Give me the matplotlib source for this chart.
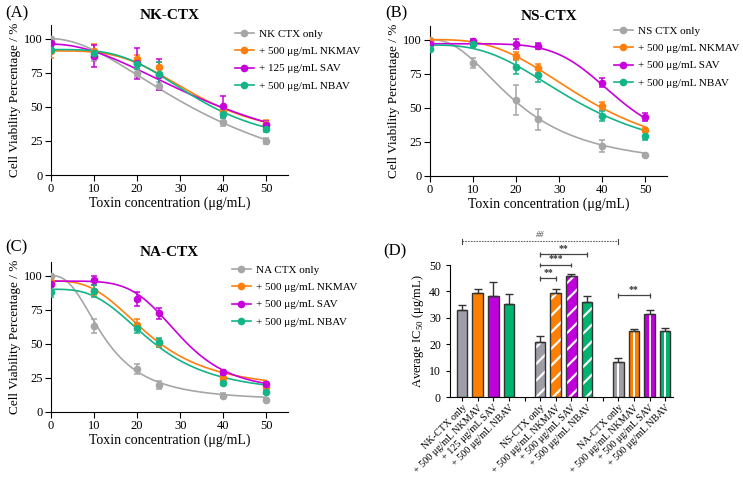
import numpy as np
import matplotlib
matplotlib.use('Agg')
import matplotlib.pyplot as plt

plt.rcParams['font.family'] = ['Liberation Serif', 'DejaVu Serif']
plt.rcParams['mathtext.fontset'] = 'custom'
plt.rcParams['mathtext.rm'] = 'Liberation Serif'
plt.rcParams['hatch.linewidth'] = 1.6

# toxin concentrations (ug/mL)
conc = [0, 10, 20, 25, 40, 50]

GRAY = '#a6a6a6'
ORANGE = '#ff7f0e'
MAGENTA = '#c800dc'
GREEN = '#13b487'
colors = [GRAY, ORANGE, MAGENTA, GREEN]

# panel A: NK-CTX
nk_labels = ['NK CTX only', '+ 500 μg/mL NKMAV', '+ 125 μg/mL SAV', '+ 500 μg/mL NBAV']
nk_mean = [[100, 86.5, 75, 65, 39, 25],
           [91, 91, 85, 79, 47, 37.5],
           [96.5, 87.5, 82, 73.5, 50.5, 36.5],
           [92, 89.5, 81.5, 74, 44.5, 33.5]]
nk_err = [[1, 3, 3, 3, 3, 2.5],
          [5, 5, 3, 4, 3, 3],
          [1.5, 8, 11.5, 11.5, 7.5, 3],
          [2, 2, 4, 9, 3, 2]]
# 4PL fits: top, bottom, IC50, hill
nk_fit = [[100, -20, 38.7, 1.9],
          [91, 25, 34, 3.5],
          [96, 0, 41, 2],
          [92, 20, 34, 3.5]]

# panel B: NS-CTX
ns_labels = ['NS CTX only', '+ 500 μg/mL NKMAV', '+ 500 μg/mL SAV', '+ 500 μg/mL NBAV']
ns_mean = [[100, 83, 56, 41.5, 22, 15.5],
           [99, 97.5, 88, 79, 51.5, 34],
           [96.5, 99, 97, 95.5, 68.5, 43],
           [93.5, 96.5, 80, 74, 44, 29.5]]
ns_err = [[1, 3.5, 11, 7.5, 4.5, 1],
          [1.5, 1.5, 3, 3.5, 3, 1.5],
          [1.5, 1.5, 3.5, 2, 3.5, 3],
          [1.5, 2, 5.5, 5, 3.5, 3]]
ns_fit = [[100, 6, 20.5, 2.3],
          [100, 10, 37, 3],
          [97, 20, 43, 6],
          [96, 10, 35, 2.8]]

# panel C: NA-CTX
na_labels = ['NA CTX only', '+ 500 μg/mL NKMAV', '+ 500 μg/mL SAV', '+ 500 μg/mL NBAV']
na_mean = [[100, 63, 31.5, 20, 12, 9],
           [95, 89, 64, 50.5, 25, 18],
           [94, 96.5, 83, 72.5, 29, 20.5],
           [88, 88.5, 61.5, 51, 21.5, 14.5]]
na_err = [[1, 5, 3.5, 3, 2, 1],
          [1.5, 4, 4, 3, 2.5, 2],
          [2, 3.5, 5, 4, 2, 1.5],
          [4, 4.5, 3.5, 3, 1.5, 1]]
na_fit = [[100, 8, 12.5, 2.5],
          [96, 16, 23, 3],
          [96, 15, 30, 5],
          [90, 13, 23.5, 3.1]]

# panel D: average IC50
bar_labels = ['NK-CTX only', '+ 500 μg/mL NKMAV', '+ 125 μg/mL SAV', '+ 500 μg/mL NBAV', '',
              'NS-CTX only', '+ 500 μg/mL NKMAV', '+ 500 μg/mL SAV', '+ 500 μg/mL NBAV', '',
              'NA-CTX only', '+ 500 μg/mL NKMAV', '+ 500 μg/mL SAV', '+ 500 μg/mL NBAV']
ic50 = [33, 39.5, 38.3, 35.2, None, 21, 39.4, 45.9, 36.1, None, 13.3, 25, 31.5, 25]
ic50_err = [2, 1.3, 5.3, 4, None, 2.2, 1.6, 0.7, 2.3, None, 1.5, 0.6, 1.5, 1.2]
bar_colors = ['#9e9ea6', '#ff7f00', '#c000dc', '#00b36e']
# significance: (from bar, to bar, height, label)
sig = [(5, 6, 45, '**'), (5, 7, 50, '***'), (5, 8, 54, '**'), (10, 12, 38.5, '**')]


def four_pl(x, top, bottom, c, h):
    return bottom + (top - bottom) / (1 + (x / c) ** h)


fig = plt.figure(figsize=(7.43, 4.79), dpi=100)


def curve_panel(rect, title, labels, means, errs, fits, leg_xy):
    ax = fig.add_axes(rect)
    xs = np.linspace(0, 50, 300)
    handles = []
    for lab, m, e, f, col in zip(labels, means, errs, fits, colors):
        ax.plot(xs, four_pl(xs, *f), color=col, lw=1.2, zorder=2)
        ax.errorbar(conc, m, yerr=e, fmt='o', color=col, ms=4.5, elinewidth=1.1,
                    capsize=2.5, capthick=1.1, zorder=3)
        h, = ax.plot([], [], color=col, marker='o', ms=4.5, lw=1.2, label=lab)
        handles.append(h)
    ax.set_xlim(0, 55)
    ax.set_ylim(0, 110)
    ax.set_xticks([0, 10, 20, 30, 40, 50])
    ax.set_yticks([0, 25, 50, 75, 100])
    for s in ['top', 'right']:
        ax.spines[s].set_visible(False)
    ax.tick_params(labelsize=9, length=4, direction='out', pad=2)
    ax.set_xlabel('Toxin concentration (μg/mL)', fontsize=10, labelpad=1)
    ax.set_ylabel('Cell Viability Percentage / %', fontsize=9.5, labelpad=2)
    ax.set_title(title, fontsize=11, fontweight='bold', pad=4)
    fig.legend(handles=handles, loc='upper left', bbox_to_anchor=leg_xy, frameon=False,
               fontsize=8, handlelength=1.7, handletextpad=0.5, labelspacing=0.68,
               borderpad=0, borderaxespad=0)
    return ax


axA = curve_panel([51 / 743, 1 - 175 / 479, 237 / 743, 150 / 479], 'NK-CTX',
                  nk_labels, nk_mean, nk_err, nk_fit, (235 / 743, 1 - 29 / 479))
axB = curve_panel([430 / 743, 1 - 176 / 479, 237 / 743, 150 / 479], 'NS-CTX',
                  ns_labels, ns_mean, ns_err, ns_fit, (614 / 743, 1 - 26 / 479))
axC = curve_panel([51 / 743, 1 - 412 / 479, 237 / 743, 150 / 479], 'NA-CTX',
                  na_labels, na_mean, na_err, na_fit, (232 / 743, 1 - 265 / 479))

fig.text(5 / 743, 1 - 13 / 479, '(A)', fontsize=12, va='center')
fig.text(385 / 743, 1 - 13 / 479, '(B)', fontsize=12, va='center')
fig.text(5 / 743, 1 - 247 / 479, '(C)', fontsize=12, va='center')
fig.text(383 / 743, 1 - 251 / 479, '(D)', fontsize=12, va='center')

# panel D
axD = fig.add_axes([450 / 743, 1 - 397 / 479, 223 / 743, 132 / 479])
pos = np.arange(len(bar_labels))
w = 0.68
for i, (v, e) in enumerate(zip(ic50, ic50_err)):
    if v is None:
        continue
    grp = i // 5
    col = bar_colors[(i % 5)]
    if grp == 1:
        axD.bar(pos[i], v, w, color=col, edgecolor='white', hatch='//', lw=0, zorder=2)
    else:
        axD.bar(pos[i], v, w, color=col, lw=0, zorder=2)
        if grp == 2:
            axD.bar(pos[i], v, w * 0.18, color='white', lw=0, zorder=2)
    axD.bar(pos[i], v, w, fill=False, edgecolor='#333333', lw=1.0, zorder=3)
    axD.errorbar(pos[i], v, yerr=[[0], [e]], color='#333333', elinewidth=1.0,
                 capsize=3, capthick=1.0, zorder=4)

axD.set_xlim(-0.77, 13.5)
axD.set_ylim(0, 50)
axD.set_yticks([0, 10, 20, 30, 40, 50])
axD.set_xticks(pos)
for s in ['top', 'right']:
    axD.spines[s].set_visible(False)
axD.tick_params(axis='y', labelsize=8.5, length=3)
axD.tick_params(axis='x', length=3, pad=1.5)
axD.set_xticklabels(bar_labels, rotation=45, ha='right', rotation_mode='anchor', fontsize=7.3)
axD.set_ylabel('Average IC$_{50}$ (μg/mL)', fontsize=9, labelpad=2)

# significance brackets
for a, b, y, lab in sig:
    axD.errorbar([pos[a], pos[b]], [y, y], yerr=0.9, color='#444444', lw=0.9,
                 elinewidth=0.9, capsize=0, clip_on=False)
    axD.text((pos[a] + pos[b]) / 2, y + 0.6, lab, ha='center', va='bottom', fontsize=7,
             fontweight='bold', color='#333333', clip_on=False)
axD.plot([pos[0], pos[10]], [59, 59], color='#666666', lw=0.8, ls=(0, (1.5, 1)), clip_on=False)
axD.plot([pos[0], pos[0]], [58, 60], color='#444444', lw=0.8, clip_on=False)
axD.plot([pos[10], pos[10]], [58, 60], color='#444444', lw=0.8, clip_on=False)
axD.text((pos[0] + pos[10]) / 2, 59.8, '##', ha='center', va='bottom', fontsize=6,
         style='italic', color='#444444')

fig.savefig('out.png', dpi=100)
